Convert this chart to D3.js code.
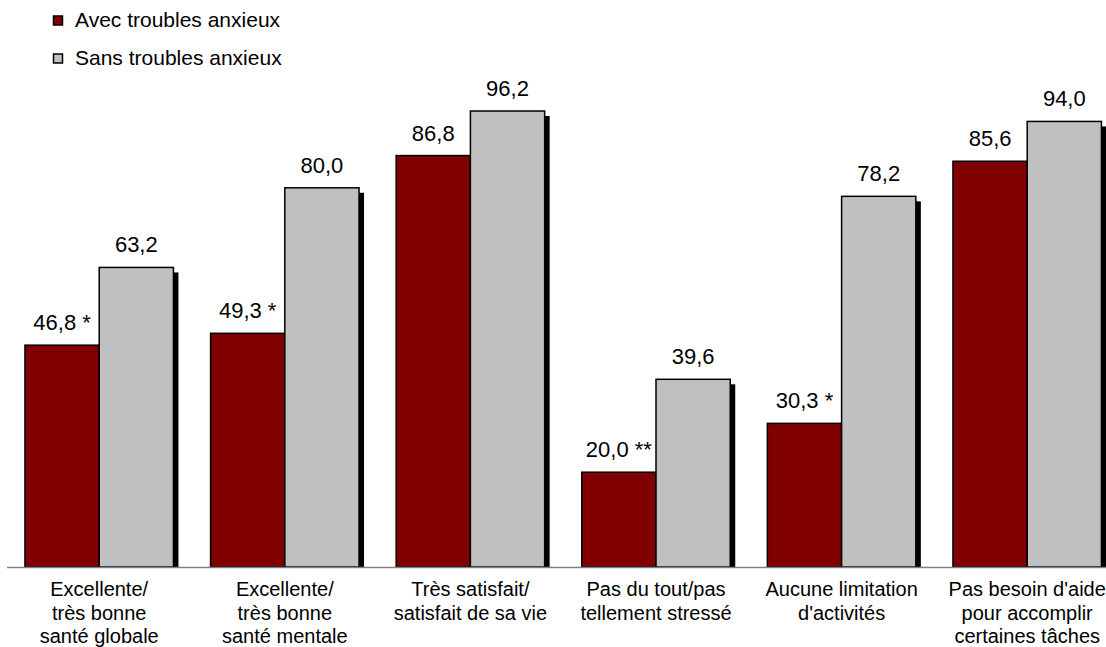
<!DOCTYPE html>
<html>
<head>
<meta charset="utf-8">
<script src="https://cdn.jsdelivr.net/npm/d3@7"></script>
<style>
  body { margin: 0; background: #fff; }
  svg text { font-family: "Liberation Sans", Arial, sans-serif; fill: #000; }
</style>
</head>
<body>
<svg id="svg" width="1106" height="647"></svg>
<script>
// données du graphique
const categories = [
  ["Excellente/", "très bonne", "santé globale"],
  ["Excellente/", "très bonne", "santé mentale"],
  ["Très satisfait/", "satisfait de sa vie"],
  ["Pas du tout/pas", "tellement stressé"],
  ["Aucune limitation", "d'activités"],
  ["Pas besoin d'aide", "pour accomplir", "certaines tâches"]
];
const series = ["Avec troubles anxieux", "Sans troubles anxieux"];
const avecValues = [46.8, 49.3, 86.8, 20.0, 30.3, 85.6];
const sansValues = [63.2, 80.0, 96.2, 39.6, 78.2, 94.0];
const avecMarks = [" *", " *", "", " **", " *", ""];
const sansMarks = ["", "", "", "", "", ""];
const colors = ["#800000", "#c0c0c0"];

const svg = d3.select("#svg");
const baseY = 567;

//échelles
const catIds = categories.map((c, i) => i);
const x0 = d3.scaleBand().domain(catIds).range([6.4, 1120]).paddingInner(0.2).paddingOuter(0.1);
const x1 = d3.scaleBand().domain(series).range([0, x0.bandwidth()]);
const y = d3.scaleLinear().domain([0, 100]).range([baseY, baseY - 474]);

//données par barre
const bars = [];
catIds.forEach((i) => {
  bars.push({ cat: i, s: series[0], v: avecValues[i], mark: avecMarks[i], color: colors[0] });
  bars.push({ cat: i, s: series[1], v: sansValues[i], mark: sansMarks[i], color: colors[1] });
});

//ombres
svg.append("g").selectAll("rect")
  .data(bars)
  .join("rect")
  .attr("x", (d) => x0(d.cat) + x1(d.s) + 5)
  .attr("y", (d) => y(d.v) + 5)
  .attr("width", x1.bandwidth())
  .attr("height", (d) => baseY - y(d.v) - 5)
  .attr("fill", "#000");

//barres
svg.append("g").selectAll("rect")
  .data(bars)
  .join("rect")
  .attr("x", (d) => x0(d.cat) + x1(d.s))
  .attr("y", (d) => y(d.v))
  .attr("width", x1.bandwidth())
  .attr("height", (d) => baseY - y(d.v))
  .attr("fill", (d) => d.color)
  .attr("stroke", "#000")
  .attr("stroke-width", 1.5);

//axe horizontal
svg.append("line")
  .attr("x1", 7).attr("x2", 1106)
  .attr("y1", baseY + 0.5).attr("y2", baseY + 0.5)
  .attr("stroke", "#808080")
  .attr("stroke-width", 1.5);

//étiquettes de valeurs
svg.append("g").selectAll("text")
  .data(bars)
  .join("text")
  .attr("x", (d) => x0(d.cat) + x1(d.s) + x1.bandwidth() / 2)
  .attr("y", (d) => y(d.v) - 15)
  .attr("text-anchor", "middle")
  .attr("font-size", 22)
  .text((d) => d3.format(".1f")(d.v).replace(".", ",") + d.mark);

//étiquettes des catégories
const catG = svg.append("g").selectAll("text")
  .data(categories)
  .join("text")
  .attr("text-anchor", "middle")
  .attr("font-size", 20)
  .attr("transform", (d, i) => `translate(${x0(i) + x0.bandwidth() / 2},596)`);
catG.selectAll("tspan")
  .data((d) => d)
  .join("tspan")
  .attr("x", 0)
  .attr("y", (d, j) => j * 23.5)
  .text((d) => d);

//légende
const legend = svg.append("g").selectAll("g")
  .data(series)
  .join("g")
  .attr("transform", (d, i) => `translate(53,${27 + i * 38})`);
legend.append("rect")
  .attr("x", 0.5).attr("y", -11)
  .attr("width", 9).attr("height", 9)
  .attr("fill", (d, i) => colors[i])
  .attr("stroke", "#000")
  .attr("stroke-width", 1.5);
legend.append("text")
  .attr("x", 22).attr("y", 0)
  .attr("font-size", 21)
  .text((d) => d);
</script>
</body>
</html>
